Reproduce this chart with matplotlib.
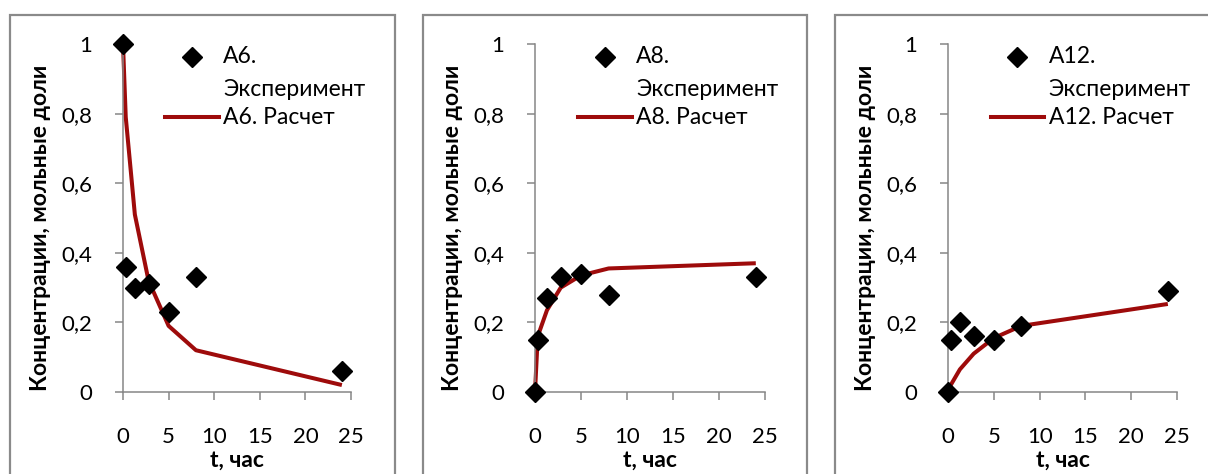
import matplotlib
matplotlib.use("Agg")
import matplotlib.pyplot as plt
from matplotlib.patches import Rectangle
from matplotlib.lines import Line2D

plt.rcParams['font.family'] = ['Lato', 'DejaVu Sans']

# Data
t_exp = [0, 0.3, 1.3, 2.8, 5, 8, 24]
a6_exp = [1.0, 0.36, 0.30, 0.31, 0.23, 0.33, 0.06]
a6_calc = [1.0, 0.79, 0.51, 0.32, 0.19, 0.12, 0.02]
a8_exp = [0.0, 0.15, 0.27, 0.33, 0.34, 0.28, 0.33]
a8_calc = [0.0, 0.16, 0.235, 0.30, 0.335, 0.355, 0.37]
a12_exp = [0.0, 0.15, 0.20, 0.16, 0.15, 0.19, 0.29]
a12_calc = [0.0, 0.02, 0.065, 0.11, 0.155, 0.19, 0.253]

names = ["А6", "А8", "А12"]
exps = [a6_exp, a8_exp, a12_exp]
calcs = [a6_calc, a8_calc, a12_calc]
xticks = [0, 5, 10, 15, 20, 25]
yticks = [0, 0.2, 0.4, 0.6, 0.8, 1.0]
ytick_labels = ["0", "0,2", "0,4", "0,6", "0,8", "1"]

W, H = 1208, 474
fig = plt.figure(figsize=(W / 100, H / 100), dpi=100)

axes_px = [(123, 351), (535, 765), (948, 1177)]
frames_px = [(10, 395), (423, 807), (835, 1215)]
y0_px, y1_px = 392, 44

red = '#9e0b0b'
grey = '#868686'
fs = 16.5

for i in range(3):
    fx0, fx1 = frames_px[i]
    fig.patches.append(Rectangle((fx0 / W, -0.05), (fx1 - fx0) / W, 0.05 + (H - 15) / H,
                                 transform=fig.transFigure, fill=False,
                                 edgecolor='#8a8a8a', linewidth=1.6))
    ax0, ax1 = axes_px[i]
    ax = fig.add_axes([ax0 / W, (H - y0_px) / H, (ax1 - ax0) / W, (y0_px - y1_px) / H])
    ax.plot(t_exp, calcs[i], color=red, linewidth=2.9, zorder=2, clip_on=False,
            solid_joinstyle='round', solid_capstyle='butt')
    ax.plot(t_exp, exps[i], linestyle='none', marker='D', markersize=10,
            color='black', zorder=3, clip_on=False)
    ax.set_xlim(0, 25)
    ax.set_ylim(0, 1)
    ax.set_xticks(xticks)
    ax.set_xticklabels([str(v) for v in xticks])
    ax.set_yticks(yticks)
    ax.set_yticklabels(ytick_labels)
    for s in ['top', 'right']:
        ax.spines[s].set_visible(False)
    for s in ['left', 'bottom']:
        ax.spines[s].set_color(grey)
        ax.spines[s].set_linewidth(1.1)
    ax.tick_params(axis='both', direction='out', color=grey, length=6, width=1.1,
                   labelsize=fs - 0.5, labelcolor='black')
    ax.tick_params(axis='x', pad=19)
    ax.tick_params(axis='y', pad=16)
    ax.text(-0.36, 0.473, "Концентрации, мольные доли", transform=ax.transAxes,
            rotation=90, ha='center', va='center', fontsize=fs, fontweight='bold')
    ax.text(0.5, -0.195, "t, час", transform=ax.transAxes, ha='center', va='center',
            fontsize=fs, fontweight='bold')
    # legend
    ax.add_line(Line2D([0.303], [0.963], transform=ax.transAxes, marker='D',
                       markersize=10, color='black', linestyle='none', clip_on=False))
    ax.add_line(Line2D([0.186, 0.42], [0.790, 0.790], transform=ax.transAxes,
                       color=red, linewidth=2.9, clip_on=False))
    ax.text(0.44, 0.963, names[i] + ".", transform=ax.transAxes, ha='left',
            va='center', fontsize=fs)
    ax.text(0.44, 0.868, "Эксперимент", transform=ax.transAxes, ha='left',
            va='center', fontsize=fs)
    ax.text(0.44, 0.790, names[i] + ". Расчет", transform=ax.transAxes, ha='left',
            va='center', fontsize=fs)

fig.savefig("out.png", dpi=100)
